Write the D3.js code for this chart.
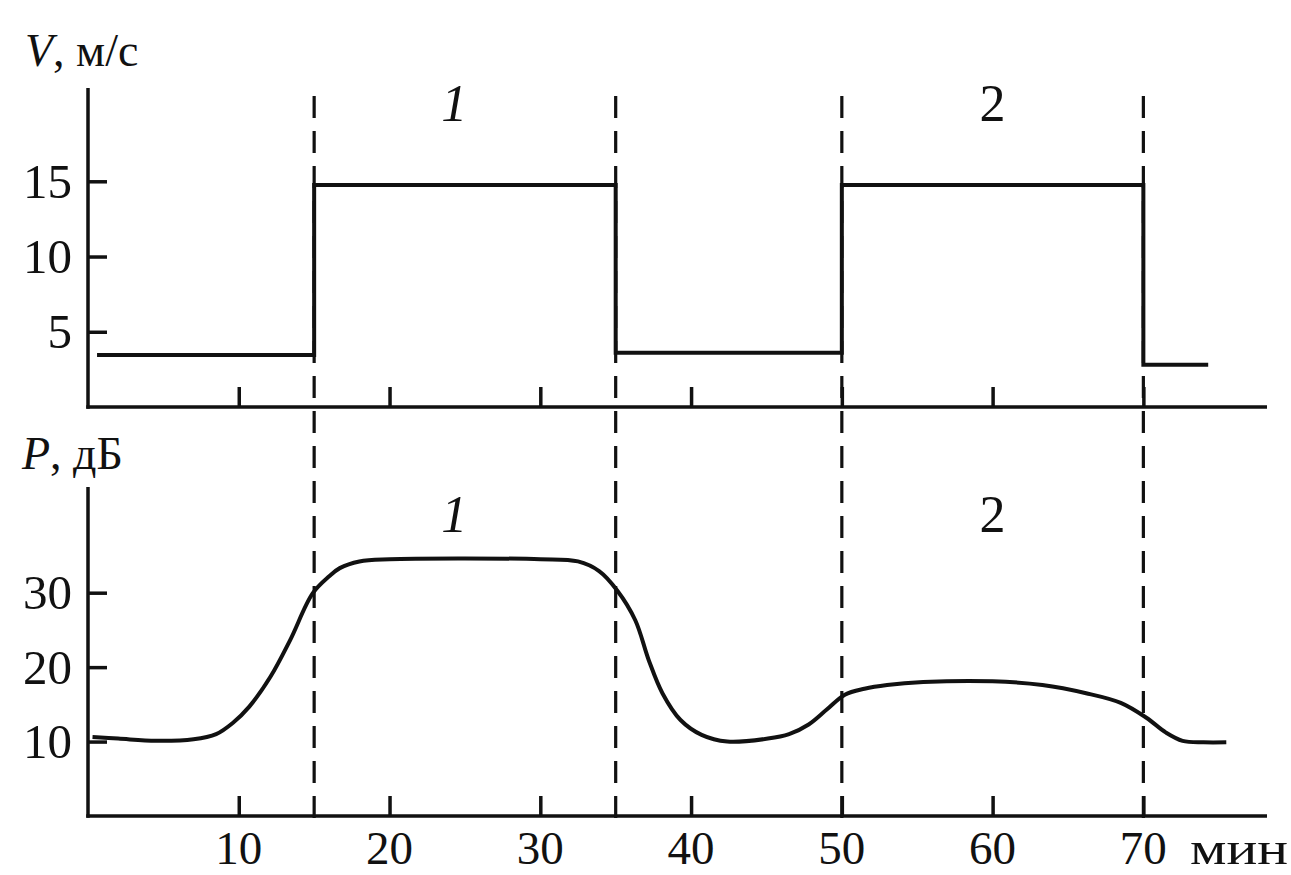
<!DOCTYPE html>
<html>
<head>
<meta charset="utf-8">
<script src="https://cdn.jsdelivr.net/npm/d3@7"></script>
<style>
  html, body { margin: 0; padding: 0; background: #fff; }
  svg { display: block; }
  text { font-family: "Liberation Serif", "Times New Roman", serif; fill: #111; }
</style>
</head>
<body>
<svg id="chart" width="1291" height="875"></svg>
<script>
// ---- data ----
const vTimes  = [0.6, 15, 35, 50, 70, 74.3];
const vValues = [3.45, 14.75, 3.6, 14.75, 2.8, 2.8];

const pTimes  = [0.3, 2, 4.5, 7, 8.5, 9.6, 10.7, 12.1, 13.4, 14.9, 16, 16.7, 18, 20, 25, 30, 32.5, 33.9, 35.1, 36.3, 37.2, 38.1, 39.3, 40.7, 42.4, 45.1, 46.5, 47.8, 49, 50.2, 51.5, 53, 55.4, 60, 63.3, 66.2, 68.5, 70.2, 71.5, 72.6, 74, 75.5];
const pValues = [10.6, 10.4, 10.1, 10.3, 11, 12.5, 14.7, 18.7, 23.6, 29.9, 32.2, 33.3, 34.2, 34.5, 34.6, 34.5, 34.2, 32.9, 30.3, 26.3, 20.9, 16.5, 12.9, 10.9, 10.0, 10.4, 11.0, 12.3, 14.3, 16.3, 17.1, 17.6, 18.0, 18.1, 17.6, 16.5, 15.2, 13.2, 11.2, 10.1, 9.9, 9.9];

const xTicks = [10, 20, 30, 40, 50, 60, 70];
const vTicks = [5, 10, 15];
const pTicks = [10, 20, 30];
const boundaries = [15, 35, 50, 70];
const regimeLabels = [{t: 24.3, text: "1"}, {t: 60, text: "2"}];

// ---- layout ----
const svg = d3.select("#chart");
const x = d3.scaleLinear().domain([0, 78.2]).range([88, 1267]);
const yV = d3.scaleLinear().domain([0, 21.2]).range([407, 88]);
const yP = d3.scaleLinear().domain([0, 44.2]).range([816, 487]);

const AX = 3.5;

function panel(y, ticks) {
  const g = svg.append("g");
  const ya = g.append("g").attr("transform", `translate(${x(0)},0)`)
    .call(d3.axisRight(y).tickValues(ticks).tickSize(19).tickFormat(""));
  ya.select(".domain").remove();
  ya.selectAll(".tick line").attr("stroke", "#111").attr("stroke-width", AX);
  g.append("line").attr("x1", x(0)).attr("x2", x(0))
    .attr("y1", y.range()[1]).attr("y2", y.range()[0] + 1.75)
    .attr("stroke", "#111").attr("stroke-width", AX);
  g.selectAll(".ylab").data(ticks).join("text")
    .attr("x", 72).attr("y", d => y(d)).attr("dy", "0.34em")
    .attr("text-anchor", "end").attr("font-size", 49).text(d => d);
  const xa = g.append("g").attr("transform", `translate(0,${y(0)})`)
    .call(d3.axisTop(x).tickValues(xTicks).tickSize(20).tickFormat(""));
  xa.select(".domain").remove();
  xa.selectAll(".tick line").attr("stroke", "#111").attr("stroke-width", AX);
  g.append("line").attr("x1", x(0) - 1.75).attr("x2", x.range()[1])
    .attr("y1", y(0)).attr("y2", y(0))
    .attr("stroke", "#111").attr("stroke-width", AX);
  return g;
}

panel(yV, vTicks);
panel(yP, pTicks);

// dashed boundaries
svg.selectAll(".bound").data(boundaries).join("line")
  .attr("x1", d => x(d)).attr("x2", d => x(d))
  .attr("y1", 96).attr("y2", 822)
  .attr("stroke", "#111").attr("stroke-width", 3.2)
  .attr("stroke-dasharray", "22,13");

// V step line
const vData = vTimes.map((t, i) => [t, vValues[i]]);
svg.append("path").datum(vData)
  .attr("d", d3.line().x(d => x(d[0])).y(d => yV(d[1])).curve(d3.curveStepAfter))
  .attr("fill", "none").attr("stroke", "#111").attr("stroke-width", 4)
  .attr("stroke-linejoin", "miter");

// P smooth curve
const pData = pTimes.map((t, i) => [t, pValues[i]]);
svg.append("path").datum(pData)
  .attr("d", d3.line().x(d => x(d[0])).y(d => yP(d[1])).curve(d3.curveCatmullRom.alpha(0.5)))
  .attr("fill", "none").attr("stroke", "#111").attr("stroke-width", 4);

// axis titles
const tV = svg.append("text").attr("x", 25).attr("y", 66).attr("font-size", 46);
tV.append("tspan").attr("font-style", "italic").text("V");
tV.append("tspan").text(", м/с");
const tP = svg.append("text").attr("x", 22).attr("y", 469).attr("font-size", 46);
tP.append("tspan").attr("font-style", "italic").text("P");
tP.append("tspan").text(", дБ");

// regime labels
[[yV, 121], [yP, 532]].forEach(([y, base]) => {
  svg.selectAll(null).data(regimeLabels).join("text")
    .attr("x", d => x(d.t)).attr("y", base)
    .attr("text-anchor", "middle").attr("font-size", 52)
    .attr("font-style", d => d.text === "1" ? "italic" : "normal")
    .text(d => d.text);
});

// x tick labels (bottom)
svg.selectAll(".xlab").data(xTicks).join("text")
  .attr("x", d => x(d)).attr("y", 864)
  .attr("text-anchor", "middle").attr("font-size", 47).text(d => d);
svg.append("text").attr("x", 1190).attr("y", 864).attr("font-size", 47)
  .attr("textLength", 98).attr("lengthAdjust", "spacingAndGlyphs").text("мин");
</script>
</body>
</html>
